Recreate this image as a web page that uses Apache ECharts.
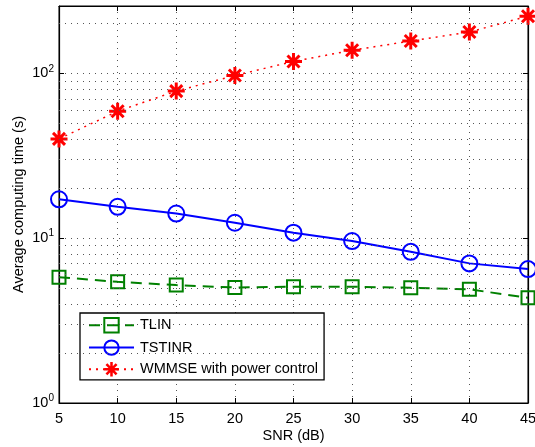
<!DOCTYPE html>
<html>
<head>
<meta charset="utf-8">
<script src="https://cdn.jsdelivr.net/npm/echarts@6/dist/echarts.min.js"></script>
<style>html,body{margin:0;padding:0;background:#fff}#c{width:535px;height:447px}</style>
</head>
<body>
<div id="c"></div>
<script>
const snr = [5, 10, 15, 20, 25, 30, 35, 40, 45];
const tlin = [5.8, 5.43, 5.19, 5.02, 5.07, 5.07, 5.0, 4.89, 4.35];
const tstinr = [17.2, 15.5, 14.1, 12.4, 10.8, 9.6, 8.26, 7.03, 6.49];
const wmmse = [40, 58.9, 78, 97, 118, 138, 157, 178, 222];
const minorGrid = [2, 3, 4, 5, 6, 7, 8, 9, 20, 30, 40, 50, 60, 70, 80, 90, 200];

const FONT = '"Liberation Sans", Arial, Helvetica, sans-serif';
const FS = 14.5;
const gridDot = { color: '#555', width: 1, type: [1, 5] };
const star = 'path://M-1.4,-8 L1.4,-8 L1.4,8 L-1.4,8 Z M-8,-1.4 L8,-1.4 L8,1.4 L-8,1.4 Z ' +
  'M-4.66,-6.64 L6.64,4.66 L4.66,6.64 L-6.64,-4.66 Z ' +
  'M-6.64,4.66 L4.66,-6.64 L6.64,-4.66 L-4.66,6.64 Z';

function pairs(ys) { return snr.map((x, i) => [x, ys[i]]); }

const chart = echarts.init(document.getElementById('c'), null, { renderer: 'canvas' });
chart.setOption({
  animation: false,
  backgroundColor: '#fff',
  textStyle: { fontFamily: FONT },
  grid: { left: 59, right: 7, top: 6, bottom: 44, containLabel: false, outerBoundsMode: 'none',
    show: true, borderColor: '#000', borderWidth: 1, backgroundColor: 'transparent' },
  legend: {
    data: ['TLIN', 'TSTINR', 'WMMSE with power control'],
    orient: 'vertical', left: 80, top: 313,
    itemWidth: 45, itemHeight: 18, itemGap: 6,
    padding: [4, 6, 3, 8],
    backgroundColor: '#fff', borderColor: '#000', borderWidth: 1.3,
    textStyle: { fontFamily: FONT, fontSize: FS, color: '#000', padding: [0, 0, 0, 1] }
  },
  xAxis: [{
    type: 'value', min: 5, max: 45, interval: 5,
    name: 'SNR (dB)', nameLocation: 'middle', nameGap: 25, nameMoveOverlap: false,
    nameTextStyle: { fontFamily: FONT, fontSize: FS, color: '#000' },
    axisLine: { lineStyle: { color: '#000', width: 1.2 } },
    axisTick: { inside: true, length: 5, lineStyle: { color: '#000' } },
    axisLabel: { fontFamily: FONT, fontSize: FS, color: '#000', margin: 8 },
    splitLine: { show: true, lineStyle: gridDot }
  }, {
    type: 'value', min: 5, max: 45, interval: 5, position: 'top',
    axisLine: { lineStyle: { color: '#000', width: 1.2 } },
    axisTick: { inside: true, length: 5, lineStyle: { color: '#000' } },
    axisLabel: { show: false }, splitLine: { show: false }
  }],
  yAxis: [{
    type: 'log', logBase: 10, min: 1, max: 256,
    name: 'Average computing time (s)', nameLocation: 'middle', nameGap: 33, nameMoveOverlap: false,
    nameTextStyle: { fontFamily: FONT, fontSize: FS, color: '#000' },
    axisLine: { lineStyle: { color: '#000', width: 1.2 } },
    axisTick: { inside: true, length: 5, lineStyle: { color: '#000' } },
    splitLine: { show: true, lineStyle: gridDot },
    axisLabel: {
      margin: 5, color: '#000',
      formatter: function (v) {
        const l = Math.log10(v), e = Math.round(l);
        if (Math.abs(l - e) > 1e-6) return '';
        return '{b|10}{s|' + e + '}';
      },
      rich: {
        b: { fontFamily: FONT, fontSize: FS, color: '#000' },
        s: { fontFamily: FONT, fontSize: 10, color: '#000', padding: [0, 0, 9, 0] }
      }
    }
  }, {
    type: 'log', logBase: 10, min: 1, max: 256, position: 'right',
    axisLine: { lineStyle: { color: '#000', width: 1.2 } },
    axisTick: { inside: true, length: 5, lineStyle: { color: '#000' } },
    axisLabel: { show: false }, splitLine: { show: false }
  }],
  series: [
    {
      name: 'minor', type: 'line', data: [], z: 1, silent: true,
      markLine: {
        silent: true, symbol: ['none', 'none'], label: { show: false },
        lineStyle: gridDot, animation: false,
        data: minorGrid.map(v => ({ yAxis: v }))
      }
    },
    {
      name: 'TLIN', type: 'line', data: pairs(tlin), z: 3,
      symbol: 'rect', symbolSize: 13,
      itemStyle: { color: 'rgba(0,0,0,0)', borderColor: '#008000', borderWidth: 2 },
      lineStyle: { color: '#008000', width: 2, type: [11, 7] }
    },
    {
      name: 'TSTINR', type: 'line', data: pairs(tstinr), z: 3,
      symbol: 'circle', symbolSize: 16,
      itemStyle: { color: 'rgba(0,0,0,0)', borderColor: '#0000ff', borderWidth: 2 },
      lineStyle: { color: '#0000ff', width: 2 }
    },
    {
      name: 'WMMSE with power control', type: 'line', data: pairs(wmmse), z: 3,
      symbol: star, symbolSize: 17, symbolKeepAspect: true,
      itemStyle: { color: '#ff0000', borderWidth: 0 },
      lineStyle: { color: '#ff0000', width: 1.5, type: [2, 5] }
    }
  ]
});
</script>
</body>
</html>
